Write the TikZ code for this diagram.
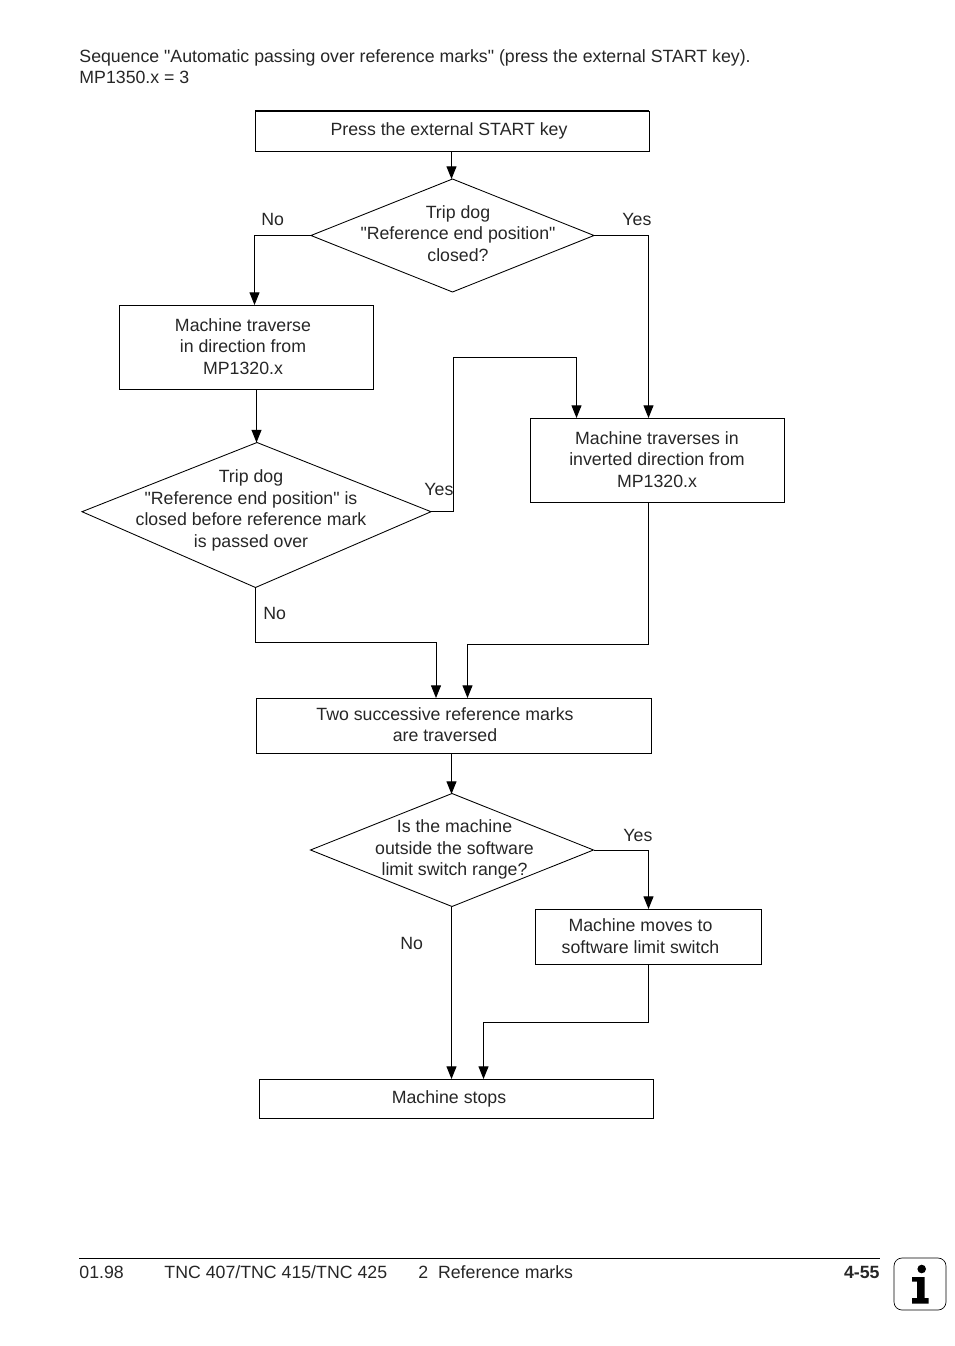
\documentclass[tikz,border=0pt]{standalone}
\usepackage{fontspec}
\setmainfont{Liberation Sans}[Ligatures = TeXOff]
\usetikzlibrary{arrows.meta}
\usetikzlibrary{shapes.geometric}
\tikzset{chartbox/.style 2 args = {draw, rectangle, inner sep = 0, outer sep = 0, minimum width = #1*0.75pt, minimum height = #2*0.75pt}}
\tikzset{chartdec/.style 2 args = {draw, diamond, inner sep = 0, outer sep = 0, minimum width = #1*0.75pt, minimum height = #2*0.75pt}}
\tikzset{chartext/.style = {align = center, inner sep = 0, text = black!85, font = \fontsize{13.3}{16.1}\selectfont}}
\tikzset{plain/.style = {anchor = base west, inner sep = 0, text = black!85, font = \fontsize{13.3}{16}\selectfont}}
\tikzset{flow/.style = {line width = 0.7pt, -{Triangle[length = 9.5pt, width = 7.5pt]}}}
\begin{document}
\begin{tikzpicture}[x = 0.75pt, y = -0.75pt, line width = 0.65pt]
      \useasboundingbox (0, 0) rectangle (954, 1346);

      \node [plain] (title1) at (79, 62) {Sequence "Automatic passing over reference marks" (press the external START key).};
      \node [plain] (title2) at (79, 83) {MP1350.x = 3};

      % boxes
      \node [chartbox = {394}{40}] (start) at (452, 131) {};
      \node [chartbox = {254}{84}] (trav1) at (246.5, 347) {};
      \node [chartbox = {254}{84}] (trav2) at (657, 460) {};
      \node [chartbox = {395}{55}] (twomarks) at (453.5, 725.5) {};
      \node [chartbox = {226}{55}] (moves) at (648, 936.5) {};
      \node [chartbox = {394}{39}] (stops) at (456, 1098.5) {};
      \draw [line width = 1pt] (start.north west) -- (start.north east);

      % decisions
      \node [chartdec = {283}{113}] (closed) at (452.5, 235.5) {};
      \node [chartdec = {283}{113}] (outside) at (452, 850) {};
      \coordinate (beforetop) at (257, 442.5);
      \coordinate (beforeleft) at (82, 511.7);
      \coordinate (beforeright) at (431, 511.7);
      \coordinate (beforebot) at (255.5, 587.5);
      \draw (beforetop) -- (beforeright) -- (beforebot) -- (beforeleft) -- cycle;

      % texts
      \node [chartext] (starttxt) at (449, 130.5) {Press the external START key};
      \node [chartext] (closedtxt) at (458, 233.5) {Trip dog\\"Reference end position"\\closed?};
      \node [chartext] (trav1txt) at (243, 346.5) {Machine traverse\\in direction from\\MP1320.x};
      \node [chartext] (trav2txt) at (657, 459.5) {Machine traverses in\\inverted direction from\\MP1320.x};
      \node [chartext] (beforetxt) at (251, 510.5) {Trip dog\\"Reference end position" is\\closed before reference mark\\is passed over};
      \node [chartext] (twotxt) at (445, 724.5) {Two successive reference marks\\are traversed};
      \node [chartext] (outsidetxt) at (454.5, 849.5) {Is the machine\\outside the software\\limit switch range?};
      \node [chartext] (movestxt) at (640.5, 936) {Machine moves to\\software limit switch};
      \node [chartext] (stopstxt) at (449, 1098.5) {Machine stops};

      % branch labels
      \node [plain] (no1) at (261, 225) {No};
      \node [plain] (yes1) at (622, 225) {Yes};
      \node [plain] (yes2) at (424, 495) {Yes};
      \node [plain] (no2) at (263, 619) {No};
      \node [plain] (yes3) at (623, 841) {Yes};
      \node [plain] (no3) at (400, 949) {No};

      % connector ends
      \coordinate (closedin) at (451.5, 179);
      \coordinate (trav1in) at (254.5, 305);
      \coordinate (trav2yes) at (648.5, 418);
      \coordinate (trav2loop) at (576.5, 418);
      \coordinate (bendloop) at (453.5, 357);
      \coordinate (beforein) at (256.5, 442.5);
      \coordinate (twoleft) at (436, 698);
      \coordinate (tworight) at (467.5, 698);
      \coordinate (trav2out) at (648.5, 502);
      \coordinate (outsidein) at (451.5, 794);
      \coordinate (movesin) at (648.5, 909);
      \coordinate (movesout) at (648.5, 964);
      \coordinate (stopsleft) at (451.5, 1079);
      \coordinate (stopsright) at (483.5, 1079);

      \draw [flow] (start.south -| closedin) -- (closedin);
      \draw [flow] (closed.west) -| (trav1in);
      \draw [flow] (closed.east) -| (trav2yes);
      \draw [flow] (trav1.south -| beforein) -- (beforein);
      \draw [flow] (beforeright) -| (bendloop) -| (trav2loop);
      \draw [flow] (beforebot) |- (436, 642) -- (twoleft);
      \draw [flow] (trav2out) |- (467.5, 644) -- (tworight);
      \draw [flow] (twomarks.south -| outsidein) -- (outsidein);
      \draw [flow] (outside.east) -| (movesin);
      \draw [flow] (outside.south -| stopsleft) -- (stopsleft);
      \draw [flow] (movesout) |- (483.5, 1022) -- (stopsright);

      % footer
      \node [plain] (date) at (79, 1278) {01.98};
      \node [plain] (model) at (164, 1278) {TNC 407/TNC 415/TNC 425};
      \node [plain] (chapter) at (418, 1278) {2\hspace{0.55em}Reference marks};
      \node [plain, anchor = base east, font = \fontsize{13.3}{16}\selectfont\bfseries] (page) at (880, 1278) {4-55};
      \coordinate (ruleleft) at (79, 1258.5);
      \coordinate (ruleright) at (880, 1258.5);
      \draw [line width = 0.75pt] (ruleleft) -- (ruleright);

      % info icon
      \draw [line width = 0.5pt, rounded corners = 6pt] (894, 1258) rectangle (946, 1310);
      \fill (921.7, 1269) circle [radius = 4.3];
      \fill (912, 1277) -- (924.5, 1277) -- (924.5, 1298) -- (928.5, 1298) -- (928.5, 1303.5) -- (912, 1303.5) -- (912, 1298) -- (917, 1298) -- (917, 1281.5) -- (912, 1281.5) -- cycle;
\end{tikzpicture}
\end{document}
